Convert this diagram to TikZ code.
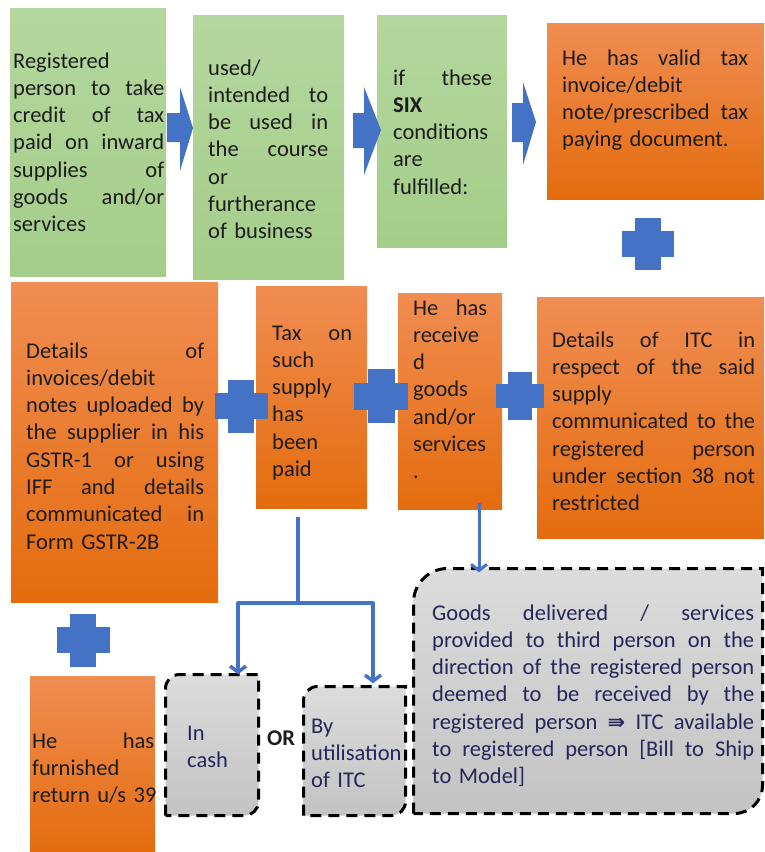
\documentclass[tikz,border=0pt]{standalone}
\usepackage{fontspec}
\setmainfont{Carlito}
\newfontfamily\symf{DejaVu Sans}
\usetikzlibrary{arrows.meta}
\definecolor{gtop}{HTML}{B4D79E}
\definecolor{gbot}{HTML}{A4CD89}
\definecolor{otop}{HTML}{F08D52}
\definecolor{obot}{HTML}{E46C0E}
\definecolor{bl}{HTML}{4472C4}
\definecolor{grtop}{HTML}{DCDCDC}
\definecolor{grbot}{HTML}{C3C3C3}
\definecolor{txtc}{HTML}{1C1C1C}
\definecolor{navy}{HTML}{25265A}
\newcommand\fsz{\fontsize{22.5}{27.3}\selectfont}
\newcommand\J[1]{\leavevmode\hbox to \hsize{\spaceskip=0.2em plus 1fil\relax #1}}
\newcommand\pluscross[3]{\fill[bl] ({#1-#3/2},{#2-#3/4}) rectangle ({#1+#3/2},{#2+#3/4});
  \fill[bl] ({#1-#3/4},{#2-#3/2}) rectangle ({#1+#3/4},{#2+#3/2});}
\newcommand\rdpath[6]{(#1,#4) -- (#1,{#2+#5}) .. controls (#1,{#2+0.448*#5}) and ({#1+0.448*#5},#2) .. ({#1+#5},#2) -- (#3,#2) -- (#3,{#4-#6}) .. controls (#3,{#4-0.448*#6}) and ({#3-0.448*#6},#4) .. ({#3-#6},#4) -- cycle}
\tikzset{
  gbox/.style={rectangle, inner sep=0pt, draw=none, top color=gtop, bottom color=gbot},
  obox/.style={rectangle, inner sep=0pt, draw=none, top color=otop, bottom color=obot},
  holder/.style={rectangle, inner sep=0pt, draw=none},
  txt/.style={anchor=base west, inner sep=0pt, align=left, font=\fsz, text=txtc},
  ntxt/.style={anchor=base west, inner sep=0pt, align=left, font=\fsz, text=navy},
  bline/.style={draw=bl, line width=3.5pt, line join=round},
  btip/.style={-{Straight Barb[length=6pt,width=16pt]}},
  dashbox/.style={draw=black, line width=3pt, dash pattern=on 11pt off 7pt, top color=grtop, bottom color=grbot},
  blockarrow/.style={fill=bl, draw=none}
}
\begin{document}
\begin{tikzpicture}[x=1pt,y=-1pt]
\path[use as bounding box] (0,0) rectangle (764,852);
\clip (0,0) rectangle (764,852);
\fill[white] (0,0) rectangle (764,852);

% ---- boxes ----
\node[gbox, minimum width=156pt, minimum height=268pt] (b1) at (88,142) {};
\node[gbox, minimum width=151pt, minimum height=264pt] (b2) at (268.5,147) {};
\node[gbox, minimum width=130pt, minimum height=232pt] (b3) at (442,131) {};
\node[obox, minimum width=219pt, minimum height=176pt] (b4) at (656.5,111) {};
\node[obox, minimum width=207pt, minimum height=320pt] (b5) at (114.5,442) {};
\node[obox, minimum width=111pt, minimum height=222pt] (b6) at (311.5,397) {};
\node[obox, minimum width=104pt, minimum height=216pt] (b7) at (450,401) {};
\node[obox, minimum width=229pt, minimum height=241pt] (b8) at (651.5,417.5) {};
\node[obox, minimum width=125pt, minimum height=178pt] (b9) at (92.5,765) {};

% ---- block arrows ----
\path[blockarrow] (167,113) -- (180,113) -- (180,87) -- (193,128) -- (180,171) -- (180,142) -- (167,142) -- cycle;
\path[blockarrow] (353,113) -- (364,113) -- (364,87) -- (381,130) -- (364,175) -- (364,148) -- (353,148) -- cycle;
\path[blockarrow] (512,103) -- (523,103) -- (523,82) -- (536,122) -- (523,165) -- (523,142) -- (512,142) -- cycle;

% ---- plus signs ----
\pluscross{648}{244}{52}
\pluscross{241}{406}{53}
\pluscross{381}{396}{54}
\pluscross{520}{396}{48}
\pluscross{83}{640}{53}

% ---- dashed grey boxes ----
\draw[dashbox] \rdpath{165.5}{674.5}{258.5}{815.5}{14}{14};
\draw[dashbox] \rdpath{303.5}{686.5}{405.5}{815.5}{14}{14};
\draw[dashbox] \rdpath{413.5}{568.5}{762.5}{813.5}{34}{28};
\node[holder, minimum width=93pt, minimum height=141pt] (cash) at (212,745) {};
\node[holder, minimum width=102pt, minimum height=129pt] (util) at (354.5,751) {};
\node[holder, minimum width=349pt, minimum height=245pt] (third) at (588,691) {};

% ---- texts ----
\node[txt, text width=151pt] (t1) at (13,68) {Registered\\ \J{person to take}\\ \J{credit of tax}\\ \J{paid on inward}\\ \J{supplies of}\\ \J{goods and/or}\\ services};
\node[txt, text width=120pt] (t2) at (208,75) {used/\\ \J{intended to}\\ \J{be used in}\\ \J{the course}\\ or\\ furtherance\\ of business};
\node[txt, text width=99pt] (t3) at (393,85) {\J{if these}\\ \textbf{SIX}\\ conditions\\ are\\ fulfilled:};
\node[txt, text width=186pt] (t4) at (562,65) {\J{He has valid tax}\\ invoice/debit\\ \J{note/prescribed tax}\\ paying document.};
\node[txt, text width=178pt] (t5) at (26,358) {\J{Details of}\\ invoices/debit\\ \J{notes uploaded by}\\ \J{the supplier in his}\\ \J{GSTR-1 or using}\\ \J{IFF and details}\\ \J{communicated in}\\ Form GSTR-2B};
\node[txt, text width=80pt] (t6) at (272,340) {\J{Tax on}\\ such\\ supply\\ has\\ been\\ paid};
\node[txt, text width=74pt] (t7) at (413,315) {\J{He has}\\ receive\\ d\\ goods\\ and/or\\ services\\ .};
\node[txt, text width=203pt] (t8) at (552,347) {\J{Details of ITC in}\\ \J{respect of the said}\\ supply\\ \J{communicated to the}\\ \J{registered person}\\ \J{under section 38 not}\\ restricted};
\node[txt, text width=122pt] (t9) at (32,748) {\J{He has}\\ furnished\\ \mbox{return u/s 39}};
\node[ntxt, text width=70pt] (tc) at (187,740) {In\\ cash};
\node[txt, font=\fsz\bfseries] (tor) at (267,745) {OR};
\node[ntxt, text width=92pt] (tu) at (311,733) {By\\ utilisation\\ of ITC};
\node[ntxt, text width=322pt] (tt) at (432,620) {\J{Goods delivered / services}\\ \J{provided to third person on the}\\ \J{direction of the registered person}\\ \J{deemed to be received by the}\\ \J{registered person {\symf\bfseries\fontsize{21}{22}\selectfont ⇛} ITC available}\\ \J{to registered person [Bill to Ship}\\ to Model]};

% ---- connectors ----
\coordinate (s6) at ([xshift=-13.5pt,yshift=-9pt]b6.south);
\coordinate (jn) at ([xshift=-13.5pt,yshift=-95pt]b6.south);
\draw[bline] (s6) -- (jn);
\draw[bline, btip] (jn) -| ([xshift=26pt]cash.north);
\draw[bline, btip, shorten >=3pt] (jn) -| ([xshift=18.5pt]util.north);
\draw[bline, line width=3pt, btip, shorten >=-4pt] ([xshift=29pt,yshift=6pt]b7.south) -- ([xshift=29pt]b7.south |- third.north);
\end{tikzpicture}
\end{document}
